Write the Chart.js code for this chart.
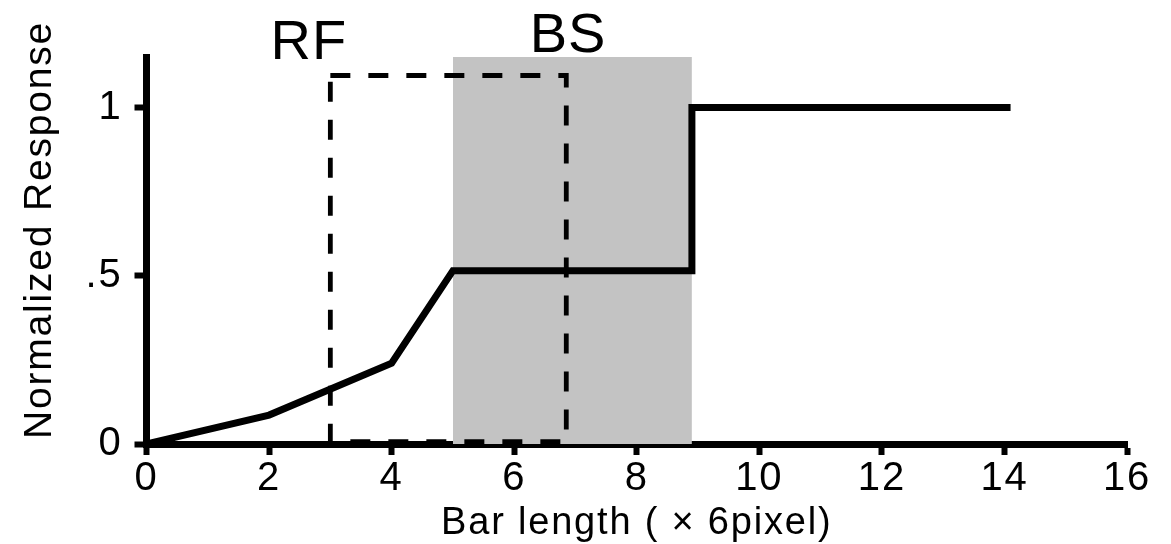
<!DOCTYPE html>
<html>
<head>
<meta charset="utf-8">
<script src="https://cdn.jsdelivr.net/npm/chart.js@4.4.0/dist/chart.umd.min.js"></script>
<style>
  html, body { margin: 0; padding: 0; background: #ffffff; }
  #wrap { width: 1171px; height: 544px; position: relative; }
</style>
</head>
<body>
<div id="wrap"><canvas id="c"></canvas></div>
<script>
// Response of the cell against bar length (in units of 6 pixels)
const barLength = [0, 2, 4, 5, 8.9, 8.9, 14.1];
const response  = [0, 0.086, 0.24, 0.515, 0.515, 1, 1];

// Receptive field (RF) outline, x and y extents
const rfX = [3, 6.85];
const rfY = [0.007, 1.095];

// Bar-stimulus (BS) band along the x axis
const bsX = [5, 8.9];

// Axis ticks
const xTicks = [0, 2, 4, 6, 8, 10, 12, 14, 16];
const yTicks = [0, 0.5, 1];
const yTickLabels = ['0', '.5', '1'];
const yMax = 1.15;

const FONT = "'Liberation Sans', Arial, Helvetica, sans-serif";
const TRACKING = '1.8px';
Chart.defaults.font.family = FONT;
Chart.defaults.color = '#000';

const mainPoints = barLength.map((x, i) => ({ x: x, y: response[i] }));
const rfPoints = [
  { x: rfX[0], y: rfY[1] },
  { x: rfX[1], y: rfY[1] },
  { x: rfX[1], y: rfY[0] },
  { x: rfX[0], y: rfY[0] },
  { x: rfX[0], y: rfY[1] }
];
const bsPoints = [
  { x: bsX[0], y: yMax },
  { x: bsX[1], y: yMax }
];

// Wide-set lettering used throughout the figure
const spacing = {
  id: 'spacing',
  beforeUpdate(chart) { chart.ctx.letterSpacing = TRACKING; },
  beforeDraw(chart) { chart.ctx.letterSpacing = TRACKING; }
};

// Region labels above the plot and the rotated y-axis title
const notes = {
  id: 'notes',
  afterDraw(chart) {
    const ctx = chart.ctx;
    const xs = chart.scales.x;
    const ys = chart.scales.y;
    ctx.save();
    ctx.fillStyle = '#000';
    ctx.textAlign = 'center';
    ctx.textBaseline = 'alphabetic';
    ctx.letterSpacing = '1px';
    ctx.font = "56px " + FONT;
    ctx.fillText('RF', xs.getPixelForValue(2.65), ys.getPixelForValue(1.143));
    ctx.fillText('BS', xs.getPixelForValue(6.88), ys.getPixelForValue(1.164));

    ctx.letterSpacing = TRACKING;
    ctx.font = "39px " + FONT;
    ctx.translate(51, 230);
    ctx.rotate(-Math.PI / 2);
    ctx.fillText('Normalized Response', 0, 0);
    ctx.restore();
  }
};

new Chart(document.getElementById('c'), {
  type: 'line',
  data: {
    datasets: [
      {
        data: mainPoints,
        borderColor: '#000',
        borderWidth: 7,
        borderJoinStyle: 'miter',
        borderCapStyle: 'butt',
        pointRadius: 0,
        tension: 0,
        fill: false,
        order: 1
      },
      {
        data: rfPoints,
        borderColor: '#000',
        borderWidth: 4.8,
        borderDash: [20, 18],
        borderJoinStyle: 'miter',
        pointRadius: 0,
        tension: 0,
        fill: false,
        order: 2
      },
      {
        data: bsPoints,
        borderWidth: 0,
        borderColor: 'rgba(0,0,0,0)',
        backgroundColor: '#c3c3c3',
        pointRadius: 0,
        fill: 'origin',
        order: 3
      }
    ]
  },
  options: {
    responsive: true,
    maintainAspectRatio: false,
    animation: false,
    events: [],
    layout: { padding: { top: 57, right: 44, bottom: 0, left: 0 } },
    plugins: {
      legend: { display: false },
      tooltip: { enabled: false },
      title: { display: false }
    },
    scales: {
      x: {
        type: 'linear',
        min: 0,
        max: 16,
        z: 1,
        afterBuildTicks(s) { s.ticks = xTicks.map(v => ({ value: v })); },
        afterFit(s) { s.height = 100; },
        ticks: {
          font: { size: 40 },
          color: '#000',
          padding: 0,
          maxRotation: 0,
          autoSkip: false
        },
        grid: {
          drawOnChartArea: false,
          drawTicks: true,
          tickLength: 11,
          tickWidth: 6,
          tickColor: '#000'
        },
        border: { display: true, color: '#000', width: 7 },
        title: {
          display: true,
          text: 'Bar length ( \u00d7 6pixel)',
          color: '#000',
          font: { size: 38, lineHeight: 1 },
          padding: { top: 0, bottom: 1.5 }
        }
      },
      y: {
        type: 'linear',
        min: 0,
        max: yMax,
        z: 1,
        afterBuildTicks(s) { s.ticks = yTicks.map(v => ({ value: v })); },
        afterFit(s) { s.width = 146.5; },
        ticks: {
          font: { size: 40 },
          color: '#000',
          padding: 12,
          callback(v) {
            const i = yTicks.findIndex(t => Math.abs(t - v) < 1e-9);
            return i >= 0 ? yTickLabels[i] : '';
          }
        },
        grid: {
          drawOnChartArea: false,
          drawTicks: true,
          tickLength: 12,
          tickWidth: 6,
          tickColor: '#000'
        },
        border: { display: true, color: '#000', width: 7 },
        title: { display: false }
      }
    }
  },
  plugins: [spacing, notes]
});
</script>
</body>
</html>
